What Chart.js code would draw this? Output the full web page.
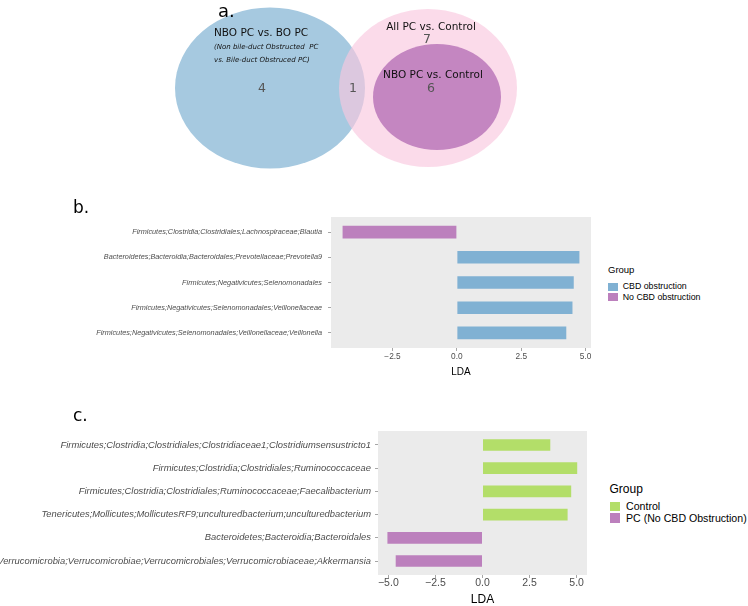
<!DOCTYPE html>
<html>
<head>
<meta charset="utf-8">
<script src="https://cdn.jsdelivr.net/npm/chart.js@4.4.1/dist/chart.umd.min.js"></script>
<style>
  body { margin: 0; background: #fff; width: 748px; height: 606px; position: relative; overflow: hidden; }
  canvas { position: absolute; left: 0; }
  .tag { position: absolute; font-family: 'DejaVu Sans', Verdana, sans-serif; line-height: 1; color: #000; white-space: nowrap; }
  .legend div { position: absolute; white-space: nowrap; font-family: 'Liberation Sans', Arial, sans-serif; color: #000; }
</style>
</head>
<body>
<canvas id="venn" width="748" height="190" style="top:0"></canvas>
<canvas id="ldaB" width="600" height="190" style="top:190px"></canvas>
<canvas id="ldaC" width="600" height="206" style="top:400px"></canvas>
<div class="tag" style="left:218px;top:2px;font-size:18px">a.</div>
<div class="tag" style="left:73px;top:199px;font-size:17px">b.</div>
<div class="tag" style="left:73px;top:407px;font-size:17px">c.</div>
<div class="legend" id="legB"></div>
<div class="legend" id="legC"></div>
<script>
// ---- a. Venn counts ----
const vennSets = ['NBO PC vs. BO PC', 'All PC vs. Control', 'NBO PC vs. Control'];
const vennNote = ['(Non bile-duct Obstructed  PC', 'vs. Bile-duct Obstruced PC)'];
const vennRegions = ['NBO PC vs. BO PC only', 'NBO PC vs. BO PC & All PC vs. Control', 'All PC vs. Control only', 'NBO PC vs. Control'];
const vennCounts = [4, 1, 7, 6];

// ---- b. LDA, bile duct obstruction ----
const taxaB = [
  'Firmicutes;Clostridia;Clostridiales;Lachnospiraceae;Blautia',
  'Bacteroidetes;Bacteroidia;Bacteroidales;Prevotellaceae;Prevotella9',
  'Firmicutes;Negativicutes;Selenomonadales',
  'Firmicutes;Negativicutes;Selenomonadales;Veillonellaceae',
  'Firmicutes;Negativicutes;Selenomonadales;Veillonellaceae;Veillonella'
];
const ldaB = [-4.44, 4.76, 4.54, 4.49, 4.25];
const groupB = ['No CBD obstruction', 'CBD obstruction', 'CBD obstruction', 'CBD obstruction', 'CBD obstruction'];
const groupNamesB = ['CBD obstruction', 'No CBD obstruction'];
const ldaRangeB = [-4.89, 5.21];
const ldaTicksB = [-2.5, 0, 2.5, 5];

// ---- c. LDA, PC vs control ----
const taxaC = [
  'Firmicutes;Clostridia;Clostridiales;Clostridiaceae1;Clostridiumsensustricto1',
  'Firmicutes;Clostridia;Clostridiales;Ruminococcaceae',
  'Firmicutes;Clostridia;Clostridiales;Ruminococcaceae;Faecalibacterium',
  'Tenericutes;Mollicutes;MollicutesRF9;unculturedbacterium;unculturedbacterium',
  'Bacteroidetes;Bacteroidia;Bacteroidales',
  'Verrucomicrobia;Verrucomicrobiae;Verrucomicrobiales;Verrucomicrobiaceae;Akkermansia'
];
const ldaC = [3.6, 5.03, 4.71, 4.52, -5.05, -4.61];
const groupC = ['Control', 'Control', 'Control', 'Control', 'PC (No CBD Obstruction)', 'PC (No CBD Obstruction)'];
const groupNamesC = ['Control', 'PC (No CBD Obstruction)'];
const ldaRangeC = [-5.55, 5.55];
const ldaTicksC = [-5, -2.5, 0, 2.5, 5];

const BLUE = '#80b1d3', PURPLE = '#bc80bd', GREEN = '#b3de69';

// venn layout (page pixels)
const vennShapes = [
  { cx: 270, cy: 88, rx: 95, ry: 80.5, color: '#a6c9e0' },
  { cx: 428, cy: 88, rx: 89, ry: 79, color: 'rgba(249,200,223,0.65)' },
  { cx: 437, cy: 97, rx: 64, ry: 53, color: '#c486c1' }
];
const vennCountPos = [[262, 89], [353, 89], [427, 40], [431, 89]];
const vennTextPos = [
  { x: 214, y: 33, align: 'left' },
  { x: 431, y: 27, align: 'center' },
  { x: 433, y: 75, align: 'center' }
];

const vennPlugin = {
  id: 'vennShapes',
  beforeDatasetsDraw(chart) {
    const { ctx, scales: { x, y } } = chart;
    vennShapes.forEach(s => {
      const cx = x.getPixelForValue(s.cx), cy = y.getPixelForValue(s.cy);
      const rx = Math.abs(x.getPixelForValue(s.cx + s.rx) - cx);
      const ry = Math.abs(y.getPixelForValue(s.cy + s.ry) - cy);
      ctx.save();
      ctx.fillStyle = s.color;
      ctx.beginPath();
      ctx.ellipse(cx, cy, rx, ry, 0, 0, Math.PI * 2);
      ctx.fill();
      ctx.restore();
    });
  },
  afterDatasetsDraw(chart) {
    const { ctx, scales: { x, y } } = chart;
    ctx.save();
    ctx.textBaseline = 'middle';
    ctx.fillStyle = '#111';
    ctx.font = '10.5px "DejaVu Sans", Verdana, sans-serif';
    vennSets.forEach((name, i) => {
      const p = vennTextPos[i];
      ctx.textAlign = p.align;
      ctx.fillText(name, x.getPixelForValue(p.x), y.getPixelForValue(p.y));
    });
    ctx.font = 'italic 7px "DejaVu Sans", Verdana, sans-serif';
    ctx.textAlign = 'left';
    vennNote.forEach((line, i) => {
      ctx.fillText(line, x.getPixelForValue(214), y.getPixelForValue(46.7 + i * 13.3));
    });
    // region counts sit on the scatter points
    ctx.font = '12.5px "DejaVu Sans", Verdana, sans-serif';
    ctx.fillStyle = '#555';
    ctx.textAlign = 'center';
    chart.getDatasetMeta(0).data.forEach((pt, i) => {
      ctx.fillText(String(vennCounts[i]), pt.x, pt.y);
    });
    ctx.restore();
  }
};

new Chart(document.getElementById('venn'), {
  type: 'scatter',
  data: {
    datasets: [{
      label: 'Regions',
      data: vennCountPos.map((p, i) => ({ x: p[0], y: p[1], region: vennRegions[i] })),
      pointRadius: 0
    }]
  },
  options: {
    responsive: false,
    animation: false,
    layout: { padding: 0 },
    plugins: { legend: { display: false }, tooltip: { enabled: false } },
    scales: {
      x: { type: 'linear', min: 0, max: 748, display: false },
      y: { type: 'linear', min: 0, max: 190, reverse: true, display: false }
    }
  },
  plugins: [vennPlugin]
});

const panelBg = {
  id: 'panelBg',
  beforeDraw(chart) {
    const { ctx, chartArea: a } = chart;
    ctx.save();
    ctx.fillStyle = '#ebebeb';
    ctx.fillRect(a.left, a.top, a.right - a.left, a.bottom - a.top);
    ctx.restore();
  }
};

function fmt(v) {
  return (v < 0 ? '\u2212' : '') + Math.abs(v).toFixed(1);
}

function ldaChart(id, taxa, lda, group, groupNames, colors, range, ticks, s) {
  const datasets = groupNames.map((g, k) => ({
    label: g,
    data: taxa.map((t, i) => ({ x: lda[i], y: i })).filter((p, i) => group[i] === g),
    backgroundColor: colors[k],
    borderWidth: 0,
    grouped: false,
    categoryPercentage: 1,
    barPercentage: 0.5
  }));
  return new Chart(document.getElementById(id), {
    type: 'bar',
    data: { datasets },
    options: {
      indexAxis: 'y',
      responsive: false,
      animation: false,
      layout: { padding: { top: s.padTop, right: s.padRight, left: 0, bottom: 0 } },
      plugins: { legend: { display: false }, tooltip: { enabled: false } },
      scales: {
        y: {
          type: 'linear',
          reverse: true,
          offset: false,
          min: -0.6,
          max: taxa.length - 0.4,
          afterBuildTicks: sc => { sc.ticks = taxa.map((t, i) => ({ value: i })); },
          afterFit: sc => { sc.width = s.yWidth; },
          grid: { drawOnChartArea: false, offset: false, tickLength: 3, color: '#a6a6a6' },
          border: { display: false },
          ticks: {
            autoSkip: false,
            padding: s.yPad,
            color: '#4d4d4d',
            font: { family: "'Liberation Sans', Arial, sans-serif", style: 'italic', size: s.yFont, lineHeight: 1 },
            callback: v => taxa[v]
          }
        },
        x: {
          type: 'linear',
          min: range[0],
          max: range[1],
          afterBuildTicks: sc => { sc.ticks = ticks.map(v => ({ value: v })); },
          afterFit: sc => { sc.height = s.xHeight; },
          grid: { drawOnChartArea: false, tickLength: 3, color: '#a6a6a6' },
          border: { display: false },
          ticks: {
            padding: s.xPad,
            color: '#4d4d4d',
            maxRotation: 0,
            font: { family: "'Liberation Sans', Arial, sans-serif", size: s.xFont, lineHeight: 1 },
            callback: v => fmt(v)
          },
          title: {
            display: true,
            text: 'LDA',
            color: '#000',
            padding: { top: 0, bottom: s.titlePad },
            font: { family: "'Liberation Sans', Arial, sans-serif", size: s.titleFont, lineHeight: 1 }
          }
        }
      }
    },
    plugins: [panelBg]
  });
}

ldaChart('ldaB', taxaB, ldaB, groupB, groupNamesB, [BLUE, PURPLE], ldaRangeB, ldaTicksB,
  { padTop: 27, padRight: 9, yWidth: 331, xHeight: 32, yPad: 6, xPad: 2, yFont: 7.3, xFont: 8.3, titleFont: 10, titlePad: 3 });
ldaChart('ldaC', taxaC, ldaC, groupC, groupNamesC, [GREEN, PURPLE], ldaRangeC, ldaTicksC,
  { padTop: 31, padRight: 13, yWidth: 378, xHeight: 31, yPad: 4, xPad: 0, yFont: 9.4, xFont: 10.5, titleFont: 12, titlePad: 0 });

// ggplot-style legends on the right
function legend(id, names, colors, st) {
  const el = document.getElementById(id);
  let html = '<div style="left:' + st.left + 'px;top:' + (st.titleY - st.titleSize / 2) + 'px;font-size:' + st.titleSize + 'px;line-height:' + st.titleSize + 'px">Group</div>';
  names.forEach((n, i) => {
    const cy = st.firstY + i * st.rowH;
    html += '<div style="left:' + st.left + 'px;top:' + (cy - st.boxH / 2) + 'px;width:' + st.boxW + 'px;height:' + st.boxH + 'px;background:' + colors[i] + '"></div>';
    html += '<div style="left:' + st.textX + 'px;top:' + (cy - st.size / 2) + 'px;font-size:' + st.size + 'px;line-height:' + st.size + 'px">' + n + '</div>';
  });
  el.innerHTML = html;
}
legend('legB', groupNamesB, [BLUE, PURPLE], { left: 608, titleY: 270, titleSize: 9.5, firstY: 286.7, rowH: 10.6, boxW: 9.5, boxH: 8, textX: 622.7, size: 8.8 });
legend('legC', groupNamesC, [GREEN, PURPLE], { left: 609.5, titleY: 489, titleSize: 12, firstY: 506.5, rowH: 11.5, boxW: 10, boxH: 9.5, textX: 626, size: 10.6 });
</script>
</body>
</html>
